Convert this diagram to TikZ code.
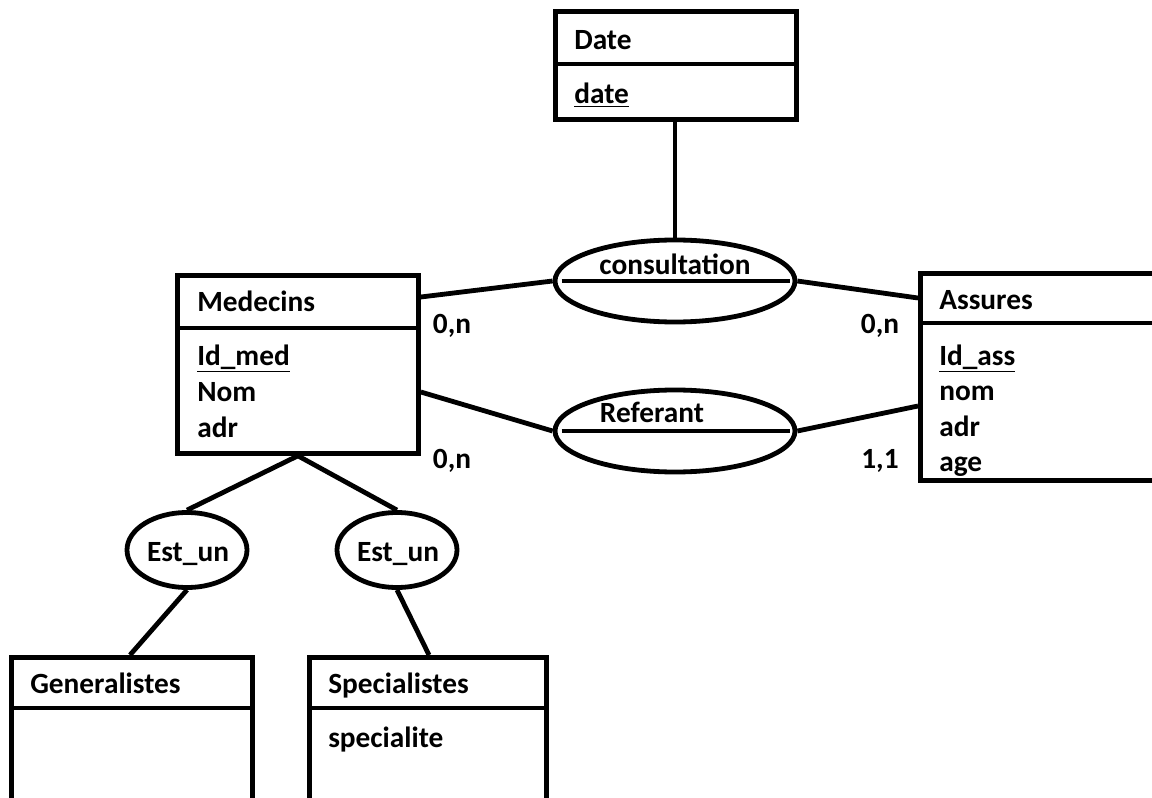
\documentclass[tikz,border=0pt]{standalone}
\usepackage{fontspec}
\setmainfont{Carlito}
\usetikzlibrary{shapes.geometric,calc}
\tikzset{
  ent/.style={draw, line width=3.6pt, rectangle, anchor=north west, inner sep=0pt},
  rel/.style={draw, ellipse, line width=3.6pt, inner sep=0pt},
  txt/.style={anchor=base west, inner sep=0pt, font=\fontsize{22}{26}\selectfont\bfseries},
  ctxt/.style={anchor=base, inner sep=0pt, font=\fontsize{22}{26}\selectfont\bfseries},
  card/.style={anchor=base, inner sep=0pt, font=\fontsize{22}{26}\selectfont\bfseries},
  link/.style={line width=3.6pt},
}
\newcommand{\ul}[1]{\underline{#1}}
\begin{document}
\begin{tikzpicture}[x=0.75pt,y=-0.75pt]
\useasboundingbox (0,0) rectangle (1152,798);
\clip (0,0) rectangle (1152,798);
% entities
\node[ent, minimum width=180.75pt, minimum height=81pt] (date) at (553,9) {};
\node[ent, minimum width=180.75pt, minimum height=133.5pt] (med) at (175,273) {};
\node[ent, minimum width=195pt, minimum height=155.25pt] (ass) at (918,271) {};
\node[ent, minimum width=180.75pt, minimum height=150pt] (gen) at (9,655) {};
\node[ent, minimum width=177.75pt, minimum height=150pt] (spec) at (307,655) {};
% dividers
\draw[link] ($(date.north west)+(2,55)$) -- ++(241,0);
\draw[link] ($(med.north west)+(2,55)$) -- ++(241,0);
\draw[link] ($(ass.north west)+(2,52)$) -- ++(260,0);
\draw[link] ($(gen.north west)+(2,53)$) -- ++(241,0);
\draw[link] ($(spec.north west)+(2,53)$) -- ++(237,0);
% entity texts
\node[txt] (tdate) at (574,50) {Date};
\node[txt] (tdatek) at (574,104) {\ul{date}};
\node[txt] (tmed) at (197,312) {Medecins};
\node[txt] (tidmed) at (197,365) {\ul{Id\_med}};
\node[txt] (tnom) at (197,401) {Nom};
\node[txt] (tadr) at (197,437) {adr};
\node[txt] (tass) at (939,310) {Assures};
\node[txt] (tidass) at (939,365) {\ul{Id\_ass}};
\node[txt] (tnom2) at (939,400) {nom};
\node[txt] (tadr2) at (939,436) {adr};
\node[txt] (tage) at (939,471) {age};
\node[txt] (tgen) at (30,693) {Generalistes};
\node[txt] (tspec) at (328,693) {Specialistes};
\node[txt] (tspc) at (328,747) {specialite};
% relations
\node[rel, minimum width=180pt, minimum height=61.5pt] (cons) at (675,281) {};
\node[rel, minimum width=180pt, minimum height=61.5pt] (ref) at (675,431) {};
\node[rel, minimum width=90pt, minimum height=56.25pt] (est1) at (187,550) {};
\node[rel, minimum width=90pt, minimum height=56.25pt] (est2) at (397,550) {};
\draw[link] ($(cons.west)+(9,0)$) -- ($(cons.east)+(-7,0)$);
\draw[link] ($(ref.west)+(9,0)$) -- ($(ref.east)+(-7,0)$);
\node[ctxt] (tcons) at (675,275) {consultation};
\node[ctxt] (tref) at (652,422) {Referant};
\node[ctxt] (test1) at (188,561) {Est\_un};
\node[ctxt] (test2) at (398,561) {Est\_un};
% cardinalities
\node[card] (c1) at (452,334) {0,n};
\node[card] (c2) at (880,334) {0,n};
\node[card] (c3) at (452,468) {0,n};
\node[card] (c4) at (880,468) {1,1};
% connectors
\draw[link] (cons.north |- date.south) -- (cons.north);
\draw[link] ($(med.north east)+(0,24)$) -- (cons.west);
\draw[link] (cons.east) -- ($(ass.north west)+(0,27)$);
\draw[link] ($(med.north east)+(0,119)$) -- (ref.west);
\draw[link] (ref.east) -- ($(ass.north west)+(0,135)$);
\draw[link] (med.south) -- (est1.north);
\draw[link] (med.south) -- (est2.north);
\draw[link] (est1.south) -- ($(gen.north west)+(121,0)$);
\draw[link] (est2.south) -- ($(spec.north west)+(122,0)$);
\end{tikzpicture}
\end{document}
